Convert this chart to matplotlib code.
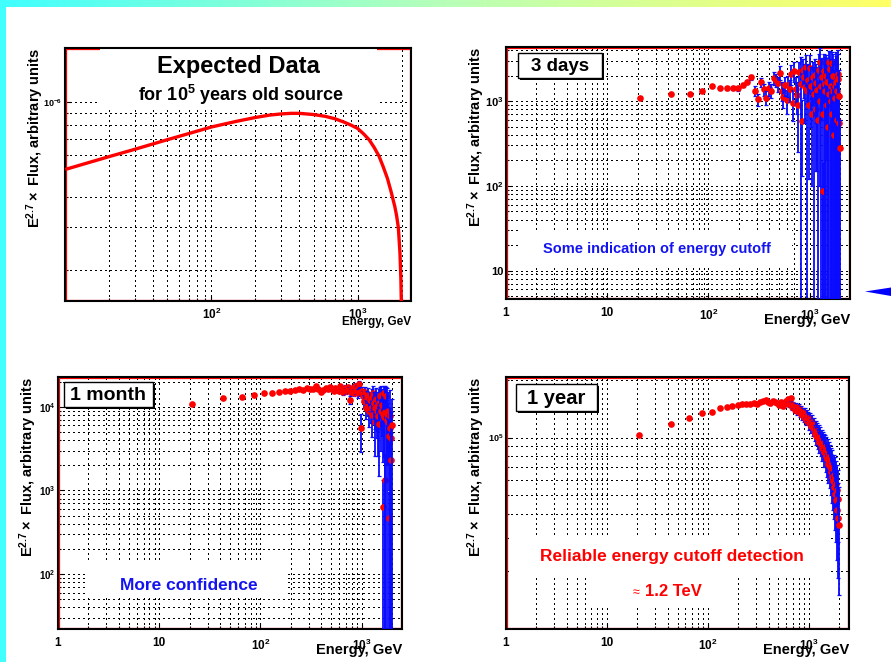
import numpy as np
import matplotlib
matplotlib.use('Agg')
import matplotlib.pyplot as plt
from matplotlib.patches import Rectangle, Polygon
from matplotlib.ticker import LogLocator, NullFormatter
from matplotlib.colors import LinearSegmentedColormap

plt.rcParams['font.family'] = ['Liberation Sans', 'DejaVu Sans']
plt.rcParams['font.weight'] = 'bold'
plt.rcParams['mathtext.fontset'] = 'custom'
plt.rcParams['mathtext.rm'] = 'Liberation Sans'
plt.rcParams['mathtext.bf'] = 'Liberation Sans:bold'
plt.rcParams['mathtext.it'] = 'Liberation Sans:italic'

W, H = 891, 662

# expected spectrum (panel 1)
curve_energy = [10.3, 20, 30, 50, 70, 100, 150, 200, 250, 300, 350, 400, 500, 600, 700,
                800, 900, 1000, 1100, 1200, 1300, 1400, 1500, 1600, 1700, 1800, 1850,
                1900, 1950, 1980, 2000, 2010]
curve_flux = [5.25e-7, 5.91e-7, 6.34e-7, 6.95e-7, 7.37e-7, 7.85e-7, 8.3e-7, 8.6e-7, 8.8e-7,
              8.9e-7, 8.95e-7, 8.95e-7, 8.85e-7, 8.7e-7, 8.5e-7, 8.25e-7, 8.0e-7, 7.75e-7,
              7.35e-7, 6.95e-7, 6.45e-7, 5.95e-7, 5.35e-7, 4.8e-7, 4.2e-7, 3.65e-7, 3.35e-7,
              3.0e-7, 2.35e-7, 1.8e-7, 1.3e-7, 5e-8]

# bin centres, GeV
energy = [21, 43, 65, 87, 109, 131, 153, 175, 197, 219,
          241, 263, 285, 307, 329, 351, 373, 395, 417, 439,
          461, 483, 505, 527, 549, 571, 593, 615, 637, 659,
          681, 703, 725, 747, 769, 791, 813, 835, 857, 879,
          901, 923, 945, 967, 989, 1011, 1033, 1055, 1077, 1099,
          1121, 1143, 1165, 1187, 1209, 1231, 1253, 1275, 1297, 1319,
          1341, 1363, 1385, 1407, 1429, 1451, 1473, 1495, 1517, 1539,
          1561, 1583, 1605, 1627, 1649, 1671, 1693, 1715, 1737, 1759,
          1781, 1803, 1825, 1847, 1869, 1891, 1913, 1935, 1957, 1979]

flux_3days = [1075, 1220, 1210, 1325, 1505, 1410, 1410, 1425, 1410, 1545,
              1690, 1900, 1325, 1055, 1675, 1370, 1100, 1410, 1325, 1885,
              1770, 1615, 2160, 1325, 1125, 1530, 1030, 1545, 1370, 2100,
              955, 2260, 1400, 1180, 900, 2200, 1600, 580, 2350, 1900,
              1450, 2500, 1300, 1750, 900, 2450, 1500, 700, 1900, 1200,
              2050, 800, 1650, 1350, 600, 2300, 1000, 2900, 1500, 1900,
              700, 86, 2250, 1600, 1300, 2000, 900, 1700, 500, 2900,
              1200, 2400, 1000, 1500, 2800, 700, 1300, 2000, 400, 1500,
              1100, 2000, 1700, 600, 1300, 2100, 1800, 550, 1150, 280]
err_3days = [30, 40, 45, 50, 60, 60, 70, 75, 80, 90,
             100, 120, 180, 170, 220, 210, 200, 250, 250, 320,
             320, 320, 400, 330, 300, 380, 320, 420, 400, 550,
             380, 600, 500, 480, 650, 700, 1700, 450, 800, 800,
             900, 1000, 1400, 900, 780, 1000, 1000, 600, 1000, 1300,
             1100, 650, 1100, 1200, 650, 1300, 900, 1300, 1600, 1300,
             800, 100, 1300, 1700, 1400, 1500, 1000, 1500, 600, 1000,
             1300, 1500, 1100, 1600, 1000, 800, 1400, 1600, 450, 1600,
             1200, 1800, 1700, 700, 1400, 1900, 1800, 600, 1200, 320]

flux_1month = [10800, 12600, 13200, 14000, 14700, 14700, 15000, 15500, 15600, 15800,
               16400, 15800, 16700, 16100, 16300, 17600, 16300, 15000, 16000, 16800,
               16200, 17300, 16500, 15600, 17000, 16400, 15300, 17500, 16200, 15000,
               16900, 15500, 17200, 16000, 12000, 15200, 16600, 14800, 17800, 15800,
               16400, 14500, 18500, 15200, 5600, 15500, 13500, 11800, 15000, 9600,
               13000, 10500, 14000, 8800, 12000, 9800, 13000, 8000, 14500, 11200,
               6600, 9600, 12500, 8800, 10200, 7800, 11000, 6200, 13600, 9000,
               14000, 10500, 630, 8200, 7500, 14600, 1330, 8600, 13300, 7000,
               8300, 6600, 9000, 4500, 470, 7800, 5600, 4200, 2300, 6000]
err_1month = [150, 180, 200, 230, 260, 280, 300, 330, 350, 380,
              400, 420, 450, 470, 500, 550, 560, 580, 620, 650,
              680, 720, 750, 780, 830, 860, 880, 950, 980, 1000,
              1080, 1100, 1150, 1200, 1300, 1300, 1400, 1450, 1550, 1600,
              1700, 1750, 1900, 1900, 2700, 1800, 2000, 2200, 2300, 2500,
              2600, 2800, 3000, 3000, 3200, 3400, 3500, 3600, 3000, 4000,
              4000, 4200, 4500, 4600, 5000, 5200, 5500, 4700, 3800, 6000,
              3500, 6000, 700, 6000, 5000, 3000, 1400, 9000, 4000, 5000,
              8700, 4500, 6000, 3500, 500, 8200, 4000, 4500, 2600, 6300]

flux_1year = [102800, 117400, 126700, 133500, 136700, 141800, 144600, 146300, 148200, 149400,
              149000, 150000, 151000, 150500, 153000, 155000, 157400, 153000, 151000, 155600,
              154000, 151000, 147000, 153000, 146000, 150000, 155000, 158000, 149000, 160000,
              144000, 148000, 140000, 145000, 137000, 143000, 135000, 139000, 131000, 136000,
              128000, 134000, 124000, 130000, 127000, 119000, 125000, 115000, 121000, 112000,
              117000, 106000, 111000, 102000, 108000, 99000, 104000, 95000, 101000, 92000,
              97000, 88000, 94000, 91000, 84000, 89000, 80000, 86000, 77000, 83000,
              73000, 79000, 70000, 76000, 66000, 72000, 62000, 69000, 59000, 64000,
              55000, 61000, 51000, 57000, 47000, 53000, 42000, 48000, 38000, 35000]
err_1year = [400, 500, 600, 700, 800, 900, 1000, 1100, 1200, 1300,
             1400, 1500, 1700, 1800, 2000, 2100, 2300, 2400, 2600, 2800,
             3000, 3200, 3400, 3600, 3800, 4000, 4300, 4500, 4700, 5000,
             5200, 5400, 5700, 5900, 6100, 6400, 6600, 6900, 7100, 7400,
             7600, 7900, 8100, 8400, 8600, 8900, 9100, 9400, 9600, 9900,
             10100, 10400, 10600, 10900, 11100, 11400, 11600, 11900, 12100, 12400,
             12600, 12900, 13100, 13400, 13600, 13900, 14100, 14400, 14600, 14900,
             15100, 15400, 15600, 15900, 16100, 16400, 16600, 16900, 17100, 17400,
             17600, 17900, 18100, 18400, 18600, 18900, 19100, 19400, 19600, 19900]

ylabel = r'E$^{\mathbf{2.7}}\times$ Flux, arbitrary units'
p2 = r'$\mathbf{10^{2}}$'
p3 = r'$\mathbf{10^{3}}$'
BLUE = '#1414f0'

fig = plt.figure(figsize=(W / 100, H / 100), dpi=100)
fig.patch.set_facecolor('white')


def px_rect(x0, y0, x1, y1, **kw):
    return Rectangle((x0 / W, 1 - y1 / H), (x1 - x0) / W, (y1 - y0) / H,
                     transform=fig.transFigure, **kw)


def make_panel(x0, y0, x1, y1, xlim, ylim, xticks, xlabels, yticks, ylabels,
               ysize, xpad=6, ysubs=(2, 3, 4, 5, 6, 7, 8, 9)):
    ax = fig.add_axes([x0 / W, 1 - y1 / H, (x1 - x0) / W, (y1 - y0) / H])
    ax.set_xscale('log')
    ax.set_yscale('log')
    ax.set_xticks(xticks, xlabels)
    ax.set_yticks(yticks, ylabels)
    ax.xaxis.set_minor_locator(LogLocator(base=10, subs=(2, 3, 4, 5, 6, 7, 8, 9), numticks=50))
    ax.yaxis.set_minor_locator(LogLocator(base=10, subs=ysubs, numticks=50))
    ax.xaxis.set_minor_formatter(NullFormatter())
    ax.yaxis.set_minor_formatter(NullFormatter())
    ax.set_xlim(*xlim)
    ax.set_ylim(*ylim)
    ax.set_axisbelow(True)
    ax.grid(True, which='both', color='black', linestyle=(0, (1, 3)), linewidth=0.75,
            antialiased=False)
    ax.tick_params(which='both', direction='in', top=False, right=False, width=0.8)
    ax.tick_params(which='major', length=4.5)
    ax.tick_params(which='minor', length=2.2)
    ax.tick_params(axis='x', labelsize=8.5, pad=xpad)
    ax.tick_params(axis='y', labelsize=ysize, pad=2)
    for s in ax.spines.values():
        s.set_color('black')
        s.set_linewidth(1.5)
    dx, dy = 1.4 / (x1 - x0), 1.4 / (y1 - y0)
    ax.add_patch(Rectangle((dx, dy), 1 - 2 * dx, 1 - 2 * dy, transform=ax.transAxes,
                           fill=False, edgecolor='red', lw=0.9, zorder=0.9, clip_on=False))
    ax.text(-29.5 / (x1 - x0), 1.0, ylabel, transform=ax.transAxes, rotation=90,
            ha='center', va='top', fontsize=10.5)
    return ax


def white_box(ax, x0, y0, x1, y1):
    ax.add_patch(px_rect(x0, y0, x1, y1, facecolor='white', edgecolor='none', zorder=1))


def label_box(ax, x0, y0, x1, y1, text, size):
    ax.add_patch(px_rect(x0 + 2, y0 + 2, x1 + 2, y1 + 2, facecolor='black',
                         edgecolor='none', zorder=4, clip_on=False))
    ax.add_patch(px_rect(x0, y0, x1, y1, facecolor='white', edgecolor='black',
                         lw=1.0, zorder=4.1, clip_on=False))
    fig.text((x0 + x1) / 2 / W, 1 - ((y0 + y1) / 2 + 1) / H, text, ha='center',
             va='center', fontsize=size, zorder=5)


def draw_points(ax, e, f, err):
    # bin by bin, like ROOT: error bar then marker, later bins on top
    for i, (x, y, s) in enumerate(zip(e, f, err)):
        lo = min(s, y * 0.9999)
        z = 2 + i * 0.01
        ax.errorbar([x], [y], yerr=[[lo], [s]], fmt='none', ecolor='#0a0aff',
                    elinewidth=1.3, capsize=1.6, capthick=0.9, zorder=z)
        ax.plot([x], [y], 'o', color='red', ms=4.8, mew=0, zorder=z + 0.005)


def ftext(x, y, s, **kw):
    fig.text(x / W, 1 - y / H, s, ha='center', va='center', **kw)


# ---- panel 1: expected data
ax1 = make_panel(65, 48, 411, 301, (10, 2320), (1.48e-7, 1.675e-6),
                 [100, 1000], [p2, p3], [1e-6], [r'$\mathbf{10^{-6}}$'],
                 6.5, xpad=4, ysubs=(2, 3, 4, 6, 7, 8, 9))
white_box(ax1, 100, 48, 377, 108)
ax1.plot(curve_energy, curve_flux, color='red', lw=2.4, solid_joinstyle='round', zorder=3)
ax1.text(1.0, -21 / 253, 'Energy, GeV', transform=ax1.transAxes, ha='right', va='center',
         fontsize=8.5)
ftext(238, 66, 'Expected Data', fontsize=17)
ftext(241, 95, r'for 10$^{\mathbf{5}}$ years old source', fontsize=13)

# ---- panel 2: 3 days
ax2 = make_panel(506, 47, 850, 299, (1, 2500), (4.62, 4340),
                 [1, 10, 100, 1000], ['1', '10', p2, p3], [10, 100, 1000], ['10', p2, p3], 8)
white_box(ax2, 520, 230, 792, 267)
draw_points(ax2, energy, flux_3days, err_3days)
ax2.text(1.0, -21 / 252, 'Energy, GeV', transform=ax2.transAxes, ha='right', va='center',
         fontsize=10.5)
label_box(ax2, 518, 53, 602, 78, '3 days', 13.5)
ftext(657, 249, 'Some indication of energy cutoff', fontsize=10.5, color=BLUE)

# ---- panel 3: 1 month
ax3 = make_panel(58, 377, 402, 629, (1, 2500), (22.1, 2.27e4),
                 [1, 10, 100, 1000], ['1', '10', p2, p3], [100, 1000, 10000],
                 [p2, p3, r'$\mathbf{10^{4}}$'], 7)
white_box(ax3, 88, 560, 288, 597)
draw_points(ax3, energy, flux_1month, err_1month)
ax3.text(1.0, -21 / 252, 'Energy, GeV', transform=ax3.transAxes, ha='right', va='center',
         fontsize=10.5)
label_box(ax3, 64, 382, 153, 407, '1 month', 14)
ftext(189, 585, 'More confidence', fontsize=12.5, color=BLUE)

# ---- panel 4: 1 year
ax4 = make_panel(506, 377, 849, 629, (1, 2500), (1e4, 2.07e5),
                 [1, 10, 100, 1000], ['1', '10', p2, p3], [1e5], [r'$\mathbf{10^{5}}$'], 6.5)
white_box(ax4, 509, 535, 828, 575)
white_box(ax4, 588, 575, 733, 608)
draw_points(ax4, energy, flux_1year, err_1year)
ax4.text(1.0, -21 / 252, 'Energy, GeV', transform=ax4.transAxes, ha='right', va='center',
         fontsize=10.5)
label_box(ax4, 516, 384, 597, 411, '1 year', 14.5)
ftext(672, 556, 'Reliable energy cutoff detection', fontsize=12.5, color='red')
ftext(636, 593, '\u2248', fontsize=9, color='red', fontweight='normal')
ftext(673, 592, '1.2 TeV', fontsize=12, color='red')

# ---- slide decorations
strip = fig.add_axes([0, 1 - 7 / H, 1, 7 / H])
cmap = LinearSegmentedColormap.from_list('strip', ['#40ffff', '#b8ffb8', '#ffff66'])
strip.imshow(np.linspace(0, 1, 256)[None, :], aspect='auto', cmap=cmap)
strip.axis('off')
fig.add_artist(px_rect(0, 0, 6, H, facecolor='#40ffff', edgecolor='none'))
fig.add_artist(Polygon([(865 / W, 1 - 291.5 / H), (891 / W, 1 - 287.5 / H),
                        (891 / W, 1 - 296 / H)], closed=True, transform=fig.transFigure,
                       facecolor='#0000ff', edgecolor='none'))

fig.savefig('out.png', dpi=100)
